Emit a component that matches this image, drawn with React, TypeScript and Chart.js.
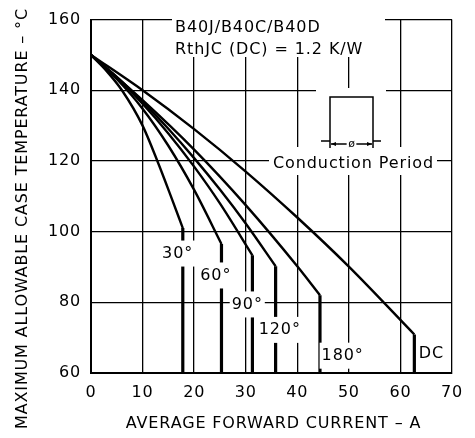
import React, { useEffect, useRef } from "react";
import { Chart, registerables } from "chart.js";

Chart.register(...registerables);

// ---- data ----
const xTickValues = [0, 10, 20, 30, 40, 50, 60, 70];
const yTickValues = [60, 80, 100, 120, 140, 160];

const conductionLabels = ["30°", "60°", "90°", "120°", "180°", "DC"];

const i30 = [0, 3, 6, 10, 13, 15.5, 17.8];
const t30 = [150, 145.5, 140, 130, 119.5, 110, 101];
const i60 = [0, 5, 10, 15, 20, 25.3];
const t60 = [150, 143.2, 134.8, 124.3, 111.8, 96.5];
const i90 = [0, 5, 10, 15, 20, 25, 31.3];
const t90 = [150, 143.6, 136.2, 127.8, 118.4, 108, 93.3];
const i120 = [0, 5, 10, 15, 20, 25, 30, 35.8];
const t120 = [150, 143.8, 136.8, 129.1, 120.8, 111.9, 102.3, 90.2];
const i180 = [0, 10, 20, 30, 40, 44.4];
const t180 = [150, 137.2, 123.2, 107.5, 90.2, 82];
const iDC = [0, 10, 20, 30, 40, 50, 62.7];
const tDC = [150, 140, 129, 117, 104, 90.1, 70.9];

const curveCurrents = [i30, i60, i90, i120, i180, iDC];
const curveTemps = [t30, t60, t90, t120, t180, tDC];
const yMin = 60;

// label anchor points (data coordinates)
const labelX = [16.8, 24.2, 30.3, 36.6, 48.8, 66.0];
const labelY = [93.8, 87.6, 79.4, 72.2, 64.9, 65.4];

const FONT = '"DejaVu Sans", "Liberation Sans", sans-serif';

const annotPlugin = {
  id: "annot",
  beforeDraw(chart: any) {
    (chart.ctx as any).letterSpacing = "0.8px";
  },
  afterDatasetsDraw(chart: any) {
    const { ctx, scales } = chart;
    const xs = scales.x;
    const ys = scales.y;
    ctx.save();
    ctx.font = `16px ${FONT}`;
    (ctx as any).letterSpacing = "0.9px";
    ctx.fillStyle = "#000";

    // curve labels with white background
    ctx.textAlign = "center";
    ctx.textBaseline = "middle";
    conductionLabels.forEach((lab, i) => {
      const px = xs.getPixelForValue(labelX[i]);
      const py = ys.getPixelForValue(labelY[i]);
      const w = ctx.measureText(lab).width;
      ctx.fillStyle = "#fff";
      ctx.fillRect(px - w / 2 - 2, py - 13, w + 4, 26);
      ctx.fillStyle = "#000";
      ctx.fillText(lab, px, py);
    });

    // device / Rth text block
    ctx.fillStyle = "#fff";
    ctx.fillRect(172, 11, 213, 46);
    ctx.fillStyle = "#000";
    ctx.textAlign = "left";
    ctx.textBaseline = "alphabetic";
    ctx.fillText("B40J/B40C/B40D", 175, 32);
    ctx.fillText("RthJC (DC) = 1.2 K/W", 175, 53.5);

    // conduction period icon
    ctx.fillStyle = "#fff";
    ctx.fillRect(316, 88, 70, 59);
    ctx.fillRect(269, 147, 168, 28);
    ctx.fillStyle = "#000";
    ctx.fillText("Conduction Period", 273, 168);

    ctx.strokeStyle = "#000";
    ctx.lineWidth = 1.5;
    ctx.beginPath();
    ctx.moveTo(330, 148);
    ctx.lineTo(330, 97);
    ctx.lineTo(373, 97);
    ctx.lineTo(373, 148);
    ctx.moveTo(321, 141);
    ctx.lineTo(330, 141);
    ctx.moveTo(373, 141);
    ctx.lineTo(381, 141);
    ctx.moveTo(331, 144);
    ctx.lineTo(372, 144);
    ctx.stroke();
    // arrowheads
    ctx.beginPath();
    ctx.moveTo(331, 144);
    ctx.lineTo(336, 142);
    ctx.lineTo(336, 146);
    ctx.closePath();
    ctx.moveTo(372, 144);
    ctx.lineTo(367, 142);
    ctx.lineTo(367, 146);
    ctx.closePath();
    ctx.fill();
    ctx.font = `11px ${FONT}`;
    (ctx as any).letterSpacing = "0px";
    ctx.textAlign = "center";
    ctx.textBaseline = "middle";
    const ow = ctx.measureText("ø").width;
    ctx.fillStyle = "#fff";
    ctx.fillRect(351.5 - ow / 2 - 1.5, 139, ow + 3, 10);
    ctx.fillStyle = "#000";
    ctx.fillText("ø", 351.5, 144);

    // axis titles
    ctx.font = `16px ${FONT}`;
    (ctx as any).letterSpacing = "0.85px";
    ctx.textAlign = "center";
    ctx.textBaseline = "middle";
    ctx.fillText("AVERAGE FORWARD CURRENT – A", 273.5, 424);
    ctx.save();
    ctx.translate(22.5, 218.5);
    ctx.rotate(-Math.PI / 2);
    ctx.fillText("MAXIMUM ALLOWABLE CASE TEMPERATURE – °C", 0, 0);
    ctx.restore();

    ctx.restore();
  },
};

export default function App() {
  const ref = useRef<HTMLCanvasElement | null>(null);

  useEffect(() => {
    if (!ref.current) return;
    const curveSets = curveCurrents.map((xsArr, k) => ({
      label: conductionLabels[k],
      data: xsArr.map((v, j) => ({ x: v, y: curveTemps[k][j] })),
      borderColor: "#000",
      borderWidth: 2.4,
      pointRadius: 0,
      cubicInterpolationMode: "monotone" as const,
      fill: false,
    }));
    const verticalSets = curveCurrents.map((xsArr, k) => {
      const last = xsArr.length - 1;
      return {
        label: conductionLabels[k] + " limit",
        data: [
          { x: xsArr[last], y: curveTemps[k][last] },
          { x: xsArr[last], y: yMin },
        ],
        borderColor: "#000",
        borderWidth: 3.2,
        pointRadius: 0,
        tension: 0,
        fill: false,
      };
    });

    const chart = new Chart(ref.current, {
      type: "line",
      data: { datasets: [...curveSets, ...verticalSets] as any },
      options: {
        animation: false,
        responsive: true,
        maintainAspectRatio: false,
        layout: { padding: { top: 9, right: 23, bottom: 0, left: 0 } },
        plugins: {
          legend: { display: false },
          tooltip: { enabled: false },
        },
        scales: {
          x: {
            type: "linear",
            min: 0,
            max: 70,
            afterBuildTicks: (s: any) => {
              s.ticks = xTickValues.map((v) => ({ value: v }));
            },
            afterFit: (s: any) => {
              s.height = 65;
            },
            ticks: {
              color: "#000",
              font: { family: FONT, size: 16 },
              padding: 10,
              maxRotation: 0,
            },
            grid: { color: "#000", lineWidth: 1.3, drawTicks: false },
            border: { display: true, color: "#000", width: 2 },
          },
          y: {
            type: "linear",
            min: 60,
            max: 160,
            afterBuildTicks: (s: any) => {
              s.ticks = yTickValues.map((v) => ({ value: v }));
            },
            afterFit: (s: any) => {
              s.width = 91;
            },
            ticks: {
              color: "#000",
              font: { family: FONT, size: 16 },
              padding: 10,
            },
            grid: { color: "#000", lineWidth: 1.3, drawTicks: false },
            border: { display: true, color: "#000", width: 2 },
          },
        },
      },
      plugins: [annotPlugin],
    });
    return () => chart.destroy();
  }, []);

  return (
    <div
      style={{
        position: "absolute",
        left: 0,
        top: 0,
        width: 475,
        height: 438,
        background: "#fff",
      }}
    >
      <canvas ref={ref} />
    </div>
  );
}
